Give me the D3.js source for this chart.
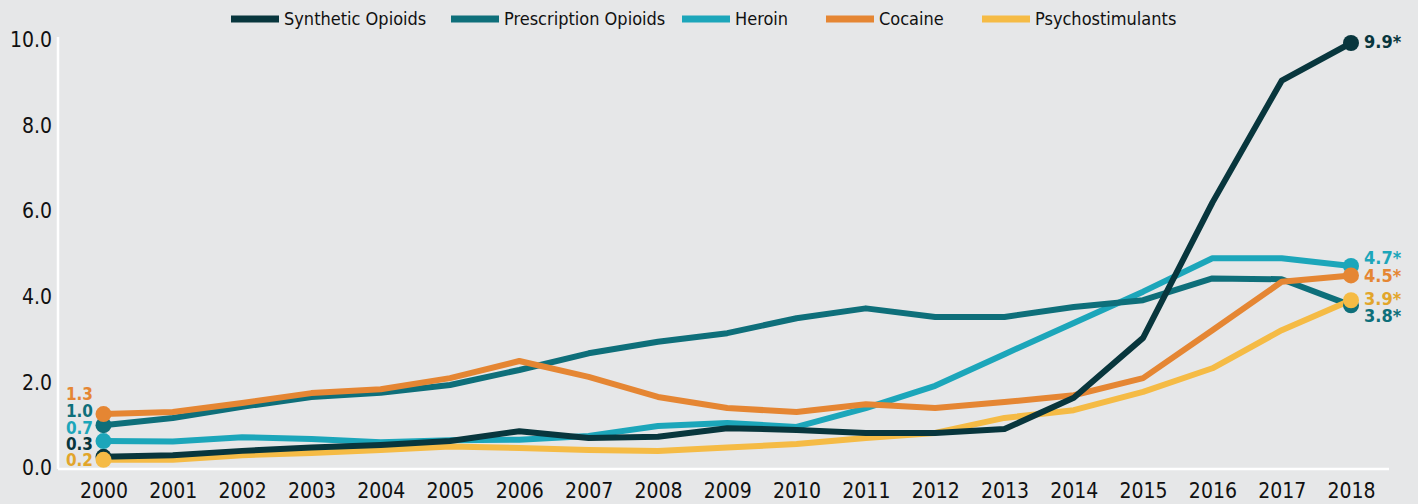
<!DOCTYPE html>
<html lang="en">
<head>
<meta charset="UTF-8">
<title>Overdose death rates</title>
<script src="https://d3js.org/d3.v7.min.js"></script>
<style>
  body { margin: 0; background: #e6e7e8; }
  svg text { font-family: "DejaVu Sans Condensed", "Liberation Sans Narrow", sans-serif; }
</style>
</head>
<body>
<div id="chart"></div>
<script>
// years on the x axis
const years = d3.range(2000, 2019);
const yTicks = [0, 2, 4, 6, 8, 10];

// rates per 100,000
const synthetic    = [0.26, 0.30, 0.40, 0.48, 0.54, 0.63, 0.86, 0.70, 0.73, 0.93, 0.89, 0.82, 0.82, 0.91, 1.64, 3.04, 6.20, 9.05, 9.93];
const prescription = [1.00, 1.17, 1.43, 1.66, 1.76, 1.94, 2.29, 2.68, 2.95, 3.15, 3.50, 3.73, 3.53, 3.53, 3.76, 3.92, 4.43, 4.41, 3.80];
const heroin       = [0.63, 0.62, 0.72, 0.68, 0.60, 0.65, 0.66, 0.75, 0.98, 1.05, 0.96, 1.40, 1.92, 2.66, 3.39, 4.12, 4.90, 4.90, 4.72];
const cocaine      = [1.26, 1.31, 1.52, 1.75, 1.84, 2.10, 2.50, 2.13, 1.66, 1.40, 1.31, 1.49, 1.40, 1.54, 1.70, 2.10, 3.22, 4.35, 4.50];
const psycho       = [0.19, 0.19, 0.30, 0.35, 0.42, 0.50, 0.47, 0.42, 0.40, 0.48, 0.56, 0.70, 0.82, 1.17, 1.35, 1.78, 2.33, 3.22, 3.92];

const seriesNames = ["Synthetic Opioids", "Prescription Opioids", "Heroin", "Cocaine", "Psychostimulants"];
const seriesData  = [synthetic, prescription, heroin, cocaine, psycho];
const lineColors  = ["#08363d", "#0e6f7a", "#1ca6ba", "#e58633", "#f5bb45"];
const labelColors = ["#08363d", "#0e6f7a", "#1ca6ba", "#e58633", "#e2a52a"];
const startLabels = ["0.3", "1.0", "0.7", "1.3", "0.2"];
const endLabels   = ["9.9*", "3.8*", "4.7*", "4.5*", "3.9*"];

const width = 1418, height = 504;

const svg = d3.select("#chart").append("svg")
    .attr("width", width)
    .attr("height", height);

svg.append("rect").attr("width", width).attr("height", height).attr("fill", "#e6e7e8");

const x = d3.scaleLinear().domain([2000, 2018]).range([103.5, 1351]);
const y = d3.scaleLinear().domain([0, 10]).range([468, 40]);

// axes: plain white lines with tick labels, no tick marks
svg.append("line")
    .attr("x1", 58).attr("x2", 58)
    .attr("y1", 37).attr("y2", 469)
    .attr("stroke", "#fff").attr("stroke-width", 2.5);
svg.append("line")
    .attr("x1", 58).attr("x2", 1389)
    .attr("y1", 469).attr("y2", 469)
    .attr("stroke", "#fff").attr("stroke-width", 2.5);

const yAxis = svg.append("g")
    .attr("transform", "translate(52,0)")
    .call(d3.axisLeft(y).tickValues(yTicks).tickFormat(d3.format(".1f")).tickSize(0).tickPadding(0));
yAxis.select(".domain").remove();
yAxis.selectAll("text").attr("font-size", 21).attr("fill", "#111").attr("font-family", null);

const xAxis = svg.append("g")
    .attr("transform", "translate(0,498)")
    .call(d3.axisBottom(x).tickValues(years).tickFormat(d3.format("d")).tickSize(0).tickPadding(0));
xAxis.select(".domain").remove();
xAxis.selectAll("text").attr("font-size", 21).attr("dy", 0).attr("fill", "#111").attr("font-family", null);

const line = d3.line()
    .x((d, i) => x(years[i]))
    .y(d => y(d));

// lines, drawn back to front
const lineOrder = [2, 1, 4, 3, 0];
svg.append("g").selectAll("path")
    .data(lineOrder)
    .join("path")
    .attr("d", k => line(seriesData[k]))
    .attr("fill", "none")
    .attr("stroke", k => lineColors[k])
    .attr("stroke-width", 6)
    .attr("stroke-linejoin", "round");

// end dots
const dots = svg.append("g");
d3.range(5).forEach(k => {
    const vals = seriesData[k];
    dots.append("circle")
        .attr("cx", x(years[0])).attr("cy", y(vals[0]))
        .attr("r", 8).attr("fill", lineColors[k]);
    dots.append("circle")
        .attr("cx", x(years[years.length - 1])).attr("cy", y(vals[vals.length - 1]))
        .attr("r", 8).attr("fill", lineColors[k]);
});

// value labels at the left end (stacked, so positions are nudged by hand)
const startLabelY = [444, 411, 428, 394, 460];
svg.append("g").selectAll("text")
    .data(d3.range(5))
    .join("text")
    .attr("x", 93)
    .attr("y", k => startLabelY[k])
    .attr("dy", "0.36em")
    .attr("text-anchor", "end")
    .attr("font-size", 17)
    .attr("font-weight", "bold")
    .attr("fill", k => labelColors[k])
    .text(k => startLabels[k]);

const endLabelY = [42, 316, 258, 276, 299];
svg.append("g").selectAll("text")
    .data(d3.range(5))
    .join("text")
    .attr("x", 1364)
    .attr("y", k => endLabelY[k])
    .attr("dy", "0.36em")
    .attr("font-size", 18)
    .attr("font-weight", "bold")
    .attr("fill", k => labelColors[k])
    .text(k => endLabels[k]);

// legend
const legendX = [231, 451, 682, 826, 982];
const legend = svg.append("g").selectAll("g")
    .data(d3.range(5))
    .join("g")
    .attr("transform", k => `translate(${legendX[k]},19)`);
legend.append("rect")
    .attr("x", 0).attr("y", -3.5)
    .attr("width", 48).attr("height", 7)
    .attr("fill", k => lineColors[k]);
legend.append("text")
    .attr("x", 53)
    .attr("dy", "0.35em")
    .attr("font-size", 18)
    .attr("fill", "#111")
    .text(k => seriesNames[k]);
</script>
</body>
</html>
